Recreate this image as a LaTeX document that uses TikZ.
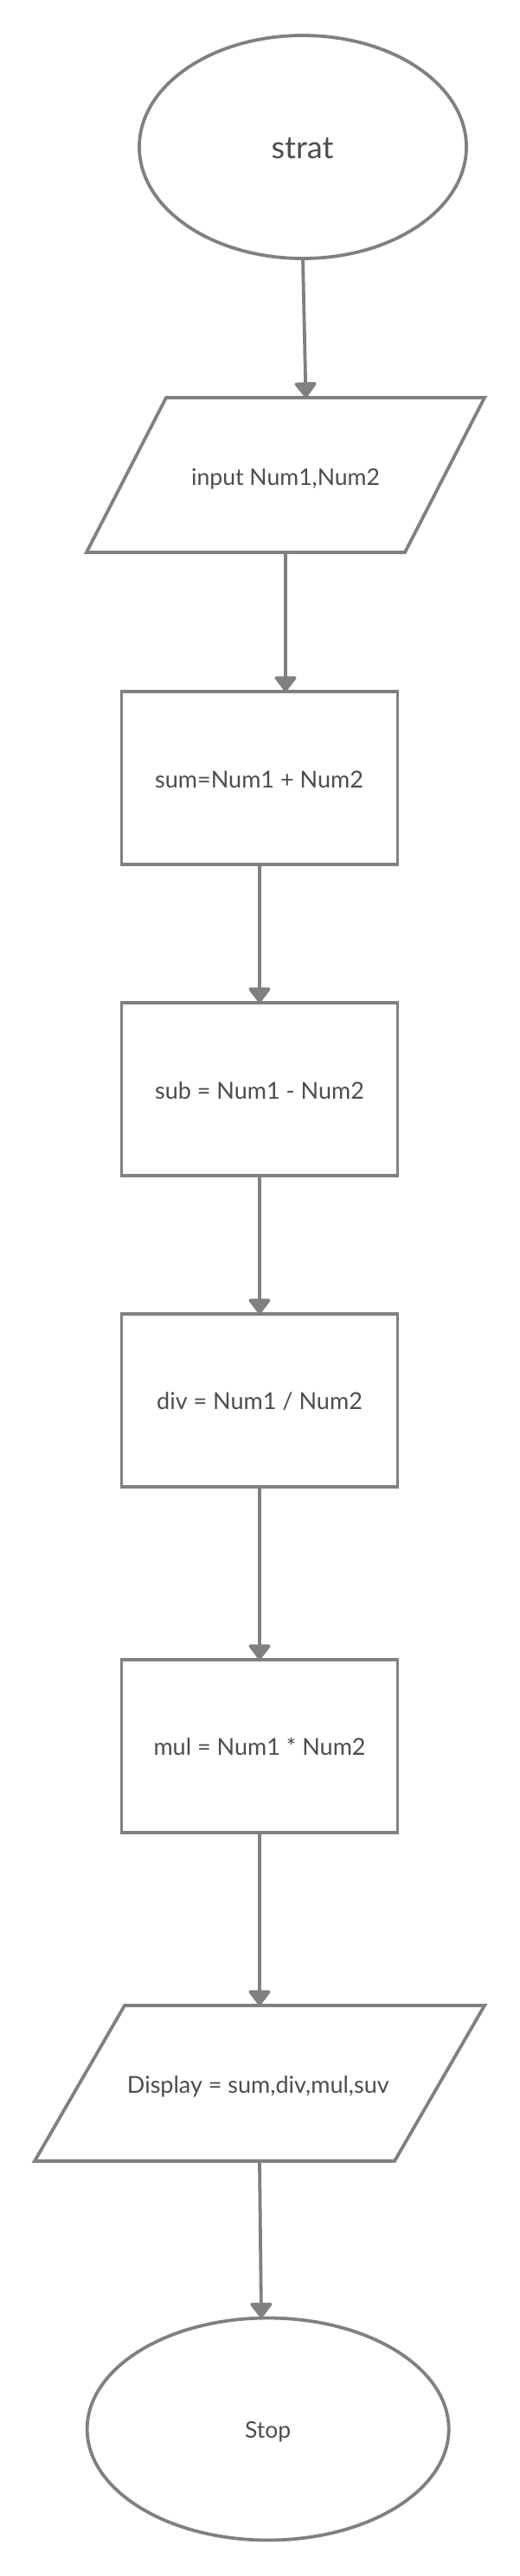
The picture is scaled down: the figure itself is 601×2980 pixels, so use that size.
\documentclass[tikz,border=0pt]{standalone}
\usepackage{fontspec}
\setmainfont{Lato}
\usetikzlibrary{shapes.geometric,arrows.meta,calc}
\definecolor{ln}{HTML}{808080}
\definecolor{tx}{HTML}{4D4D4D}
\begin{document}
\begin{tikzpicture}[x=1pt,y=-1pt,
  shp/.style={draw=ln,line width=3.8pt,inner sep=0pt,outer sep=0pt},
  oval/.style={shp,ellipse},
  box/.style={shp,rectangle,minimum width=319pt,minimum height=200pt},
  frame/.style={rectangle,inner sep=0pt,outer sep=0pt},
  para/.style={draw=ln,line width=3.8pt,line join=miter},
  arr/.style={draw=ln,line width=3.8pt,-{Triangle[width=28pt,length=19pt,round]}},
  txt/.style={text=tx,inner sep=0pt,anchor=base}]
\useasboundingbox[fill=white] (0,0) rectangle (601,2980);
% shapes
\node[oval,minimum width=378pt,minimum height=258pt] (start) at (350,170) {};
\node[frame,minimum width=460pt,minimum height=179pt] (p1) at (330,549.5) {};
\draw[para] ($(p1.north west)+(92,0)$) -- (p1.north east) -- ($(p1.south east)-(92,0)$) -- (p1.south west) -- cycle;
\node[box] (r1) at (300,900) {};
\node[box] (r2) at (300,1260) {};
\node[box] (r3) at (300,1620) {};
\node[box] (r4) at (300,2020) {};
\node[frame,minimum width=520pt,minimum height=180pt] (p2) at (300,2410) {};
\draw[para] ($(p2.north west)+(104,0)$) -- (p2.north east) -- ($(p2.south east)-(104,0)$) -- (p2.south west) -- cycle;
\node[oval,minimum width=418pt,minimum height=257pt] (stop) at (309.7,2810) {};
% texts
\node[txt,font=\fontsize{36}{40}\selectfont] (tstart) at (349.5,183.3) {strat};
\node[txt,font=\fontsize{26.6}{32}\selectfont] (tp1) at (330,561) {input Num1,Num2};
\node[txt,font=\fontsize{27}{32}\selectfont] (tr1) at (299.5,911.8) {sum=Num1 + Num2};
\node[txt,font=\fontsize{27}{32}\selectfont] (tr2) at (300,1271) {sub = Num1 - Num2};
\node[txt,font=\fontsize{27}{32}\selectfont] (tr3) at (300,1630.6) {div = Num1 / Num2};
\node[txt,font=\fontsize{27}{32}\selectfont] (tr4) at (300,2030.7) {mul = Num1 * Num2};
\node[txt,font=\fontsize{27}{32}\selectfont] (tp2) at (298.3,2421.7) {Display = sum,div,mul,suv};
\node[txt,font=\fontsize{26.5}{30}\selectfont] (tstop) at (309.7,2820) {Stop};
% connectors
\draw[arr] (start.south) -- ($(p1.north west)+(253.5,0)$);
\draw[arr] (p1.south) -- (p1.south |- r1.north);
\draw[arr] (r1.south) -- (r2.north);
\draw[arr] (r2.south) -- (r3.north);
\draw[arr] (r3.south) -- (r4.north);
\draw[arr] (r4.south) -- (r4.south |- p2.north);
\draw[arr] (p2.south) -- ($(stop.north)+(-7.7,0)$);
\end{tikzpicture}
\end{document}
